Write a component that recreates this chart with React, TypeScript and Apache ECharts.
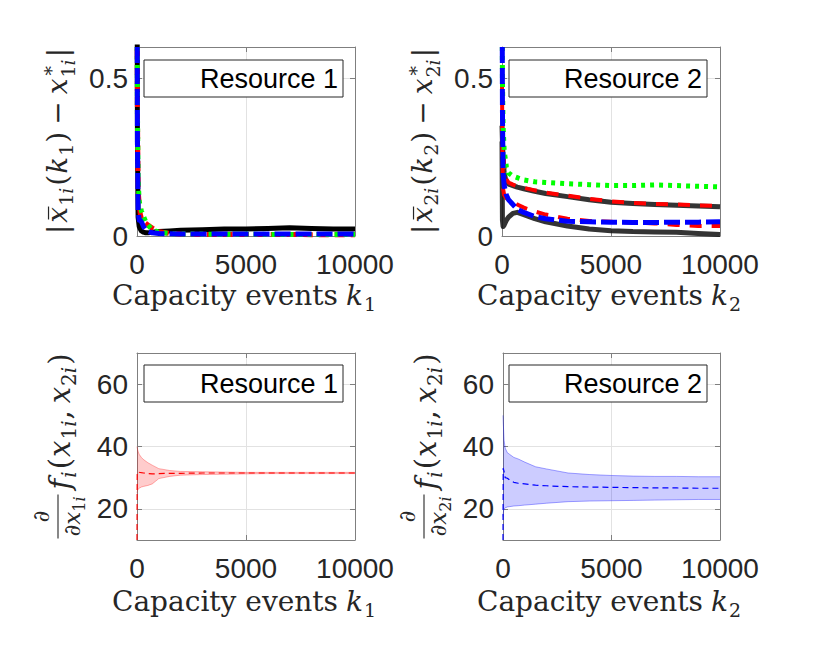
import React, { useEffect, useRef } from "react";
import * as echarts from "echarts";

// ---------------- data ----------------
const xTickValues = [0, 5000, 10000];
const topYTicks = [0, 0.5];
const bottomYTicks = [20, 40, 60];
const legendTexts = ["Resource 1", "Resource 2", "Resource 1", "Resource 2"];

// Resource 1, top: |x̄1i(k1) - x*1i|
const kR1 = [0, 20, 50, 100, 150, 200, 300, 400, 500, 700, 1000, 1500, 2000, 3000, 4000, 5000, 6000, 7000, 8000, 9000, 10000];
const r1Black = [1.0, 0.3, 0.06, 0.03, 0.022, 0.016, 0.012, 0.01, 0.01, 0.012, 0.014, 0.016, 0.018, 0.02, 0.022, 0.022, 0.024, 0.026, 0.024, 0.022, 0.022];
const r1Red = [1.0, 0.4, 0.15, 0.1, 0.07, 0.055, 0.045, 0.04, 0.035, 0.025, 0.014, 0.008, 0.006, 0.005, 0.005, 0.005, 0.005, 0.005, 0.004, 0.004, 0.004];
const r1Green = [1.0, 0.4, 0.18, 0.11, 0.095, 0.08, 0.062, 0.045, 0.035, 0.02, 0.012, 0.008, 0.006, 0.006, 0.005, 0.006, 0.005, 0.005, 0.005, 0.005, 0.005];
const r1Blue = [1.0, 0.3, 0.08, 0.05, 0.05, 0.045, 0.03, 0.02, 0.015, 0.01, 0.008, 0.007, 0.006, 0.006, 0.006, 0.006, 0.006, 0.006, 0.006, 0.006, 0.006];

// Resource 2, top: |x̄2i(k2) - x*2i|
const kR2 = [0, 20, 50, 100, 200, 300, 500, 700, 1000, 1500, 2000, 3000, 4000, 5000, 6000, 7000, 8000, 9000, 10000];
const r2Green = [1.0, 0.5, 0.35, 0.27, 0.22, 0.2, 0.19, 0.185, 0.178, 0.172, 0.17, 0.166, 0.163, 0.16, 0.16, 0.162, 0.16, 0.158, 0.156];
const r2BlackUpper = [0.35, 0.3, 0.25, 0.2, 0.17, 0.165, 0.16, 0.155, 0.15, 0.142, 0.135, 0.125, 0.115, 0.107, 0.103, 0.1, 0.098, 0.095, 0.093];
const r2RedUpper = [0.6, 0.35, 0.28, 0.22, 0.18, 0.17, 0.163, 0.158, 0.153, 0.145, 0.138, 0.128, 0.118, 0.11, 0.105, 0.102, 0.1, 0.097, 0.095];
const r2Blue = [1.0, 0.4, 0.2, 0.16, 0.13, 0.115, 0.1, 0.085, 0.075, 0.062, 0.055, 0.047, 0.045, 0.044, 0.043, 0.043, 0.044, 0.044, 0.045];
const r2RedLower = [0.5, 0.25, 0.15, 0.13, 0.12, 0.115, 0.11, 0.1, 0.09, 0.078, 0.068, 0.055, 0.048, 0.045, 0.043, 0.04, 0.035, 0.032, 0.032];
const r2BlackLower = [0.3, 0.05, 0.03, 0.035, 0.05, 0.06, 0.072, 0.075, 0.068, 0.055, 0.045, 0.032, 0.022, 0.017, 0.014, 0.013, 0.012, 0.008, 0.005];

// Bottom: gradient mean and band
const kG = [0, 10, 30, 50, 100, 200, 300, 500, 700, 1000, 1500, 2000, 3000, 4000, 5000, 6000, 7000, 8000, 9000, 10000];
const g1Mean = [10, 31.5, 32, 32, 31.8, 31.6, 31.5, 31.3, 31.2, 31.3, 31.4, 31.4, 31.5, 31.5, 31.5, 31.5, 31.5, 31.5, 31.5, 31.5];
const g1Upper = [40, 39.5, 39, 38.5, 37.5, 36.5, 35.8, 34.8, 34.0, 32.9, 32.3, 32.0, 31.9, 31.8, 31.7, 31.7, 31.7, 31.7, 31.7, 31.7];
const g1Lower = [25, 25.5, 26, 26.3, 26.6, 27.0, 27.2, 27.5, 28.0, 29.7, 30.4, 30.8, 31.0, 31.1, 31.2, 31.3, 31.3, 31.3, 31.3, 31.3];
const g2Mean = [10, 33, 33, 32, 30, 29.8, 29.3, 28.5, 28.2, 28, 27.6, 27.4, 27.1, 27, 26.9, 26.8, 26.7, 26.7, 26.6, 26.6];
const g2Upper = [50, 48, 45, 42, 39.5, 38, 37.5, 36.5, 36, 35, 33.5, 32.8, 31.5, 31.0, 30.7, 30.5, 30.4, 30.4, 30.3, 30.3];
const g2Lower = [17.5, 18.5, 19.5, 20, 20.3, 20.6, 20.7, 20.9, 21, 21.2, 21.5, 21.8, 22.3, 22.5, 22.6, 22.7, 22.8, 22.9, 23, 23];

// ---------------- style ----------------
const AX = "#7f7f7f";
const TXT = "#262626";
const GRIDC = "#e2e2e2";
const SANS = "Liberation Sans";
const SERIF = "DejaVu Serif";
const FS = 28; // main math font size
const SS = 19; // subscript size

const panels = [
  { left: 137, top: 47, width: 218, height: 189, yMin: 0, yMax: 0.6, yTicks: topYTicks },
  { left: 502, top: 47, width: 218, height: 189, yMin: 0, yMax: 0.6, yTicks: topYTicks },
  { left: 137, top: 353, width: 218, height: 187, yMin: 10, yMax: 70, yTicks: bottomYTicks },
  { left: 503, top: 353, width: 217, height: 187, yMin: 10, yMax: 70, yTicks: bottomYTicks },
];

type Piece = {
  t?: string;
  s?: number;
  it?: boolean;
  dy?: number;
  gap?: number;
  noAdv?: boolean;
  over?: boolean;
  frac?: { num: Piece[]; den: Piece[]; numDy: number; denDy: number; barDy: number };
};

function makeMeasure() {
  const ctx = document.createElement("canvas").getContext("2d") as CanvasRenderingContext2D;
  return (p: Piece) => {
    ctx.font = `${p.it ? "italic " : ""}${p.s}px "${SERIF}"`;
    return ctx.measureText(p.t || "").width;
  };
}

function buildMath(pieces: Piece[], color: string) {
  const measure = makeMeasure();
  const els: any[] = [];
  const fontOf = (p: Piece) => `${p.it ? "italic " : ""}${p.s}px "${SERIF}"`;
  const placeOne = (p: Piece, cur: number, baseDy: number) => {
    const w = measure(p);
    const x = cur + (p.gap || 0);
    const base = baseDy + (p.dy || 0);
    els.push({
      type: "text",
      x,
      y: base - 0.346 * (p.s as number),
      style: { text: p.t, font: fontOf(p), fill: color, align: "left", verticalAlign: "middle" },
    });
    if (p.over) {
      els.push({
        type: "line",
        shape: { x1: x + 0.2 * w, y1: base - 0.66 * (p.s as number), x2: x + 1.02 * w, y2: base - 0.66 * (p.s as number) },
        style: { stroke: color, lineWidth: 1.2 },
      });
    }
    return p.noAdv ? cur : x + w;
  };
  const widthOf = (list: Piece[]) => {
    let c = 0;
    for (const p of list) {
      const w = measure(p);
      if (!p.noAdv) c += (p.gap || 0) + w;
    }
    return c;
  };
  let cur = 0;
  for (const p of pieces) {
    if (p.frac) {
      const f = p.frac;
      const wn = widthOf(f.num);
      const wd = widthOf(f.den);
      const W = Math.max(wn, wd) + 4;
      const x0 = cur + (p.gap || 0);
      let c = x0 + (W - wn) / 2;
      for (const q of f.num) c = placeOne(q, c, f.numDy);
      c = x0 + (W - wd) / 2;
      for (const q of f.den) c = placeOne(q, c, f.denDy);
      els.push({
        type: "line",
        shape: { x1: x0, y1: f.barDy, x2: x0 + W, y2: f.barDy },
        style: { stroke: color, lineWidth: 1.1 },
      });
      cur = x0 + W;
    } else {
      cur = placeOne(p, cur, 0);
    }
  }
  return { els, width: cur };
}

function mathGroup(pieces: Piece[], cx: number, cy: number, rotated: boolean) {
  const { els, width } = buildMath(pieces, TXT);
  return {
    type: "group",
    x: cx,
    y: cy,
    rotation: rotated ? Math.PI / 2 : 0,
    z: 100,
    children: [{ type: "group", x: -width / 2, y: 0, children: els }],
  };
}

function topYLabel(n: string): Piece[] {
  return [
    { t: "|", s: FS },
    { t: "x", s: FS, it: true, over: true, gap: 2 },
    { t: n, s: SS, dy: 6, gap: 1 },
    { t: "i", s: SS, it: true, dy: 6 },
    { t: "(", s: FS, gap: 2 },
    { t: "k", s: FS, it: true, gap: 1 },
    { t: n, s: SS, dy: 6, gap: 1 },
    { t: ")", s: FS, gap: 1 },
    { t: "\u2212", s: FS, gap: 7 },
    { t: "x", s: FS, it: true, gap: 7 },
    { t: "*", s: SS, dy: -9, noAdv: true, gap: 3 },
    { t: n, s: SS, dy: 8, gap: 1 },
    { t: "i", s: SS, it: true, dy: 8 },
    { t: "|", s: FS, gap: 2 },
  ];
}

function bottomYLabel(n: string): Piece[] {
  const B = 29;
  const S = 20;
  return [
    {
      frac: {
        num: [{ t: "\u2202", s: 23 }],
        den: [
          { t: "\u2202", s: 23 },
          { t: "x", s: 23, it: true },
          { t: n, s: 16, dy: 5 },
          { t: "i", s: 16, it: true, dy: 5 },
        ],
        numDy: -21,
        denDy: 10,
        barDy: -12,
      },
    },
    { t: "f", s: B, it: true, gap: 5 },
    { t: "i", s: S, it: true, dy: 6, gap: 1 },
    { t: "(", s: B, gap: 2 },
    { t: "x", s: B, it: true, gap: 1 },
    { t: "1", s: S, dy: 6, gap: 1 },
    { t: "i", s: S, it: true, dy: 6 },
    { t: ",", s: B, gap: 1 },
    { t: "x", s: B, it: true, gap: 7 },
    { t: "2", s: S, dy: 6, gap: 1 },
    { t: "i", s: S, it: true, dy: 6 },
    { t: ")", s: B, gap: 2 },
  ];
}

function xTitle(n: string): Piece[] {
  return [
    { t: "Capacity events", s: FS },
    { t: "k", s: FS, it: true, gap: 8 },
    { t: n, s: SS, dy: 6, gap: 1 },
  ];
}

function pairs(ks: number[], vs: number[]) {
  return ks.map((k, i) => [k, vs[i]]);
}

function lineSeries(gi: number, ks: number[], vs: number[], color: string, width: number, type: any, z: number, opacity = 1) {
  return {
    type: "line",
    xAxisIndex: 2 * gi,
    yAxisIndex: 2 * gi,
    data: pairs(ks, vs),
    showSymbol: false,
    symbol: "none",
    clip: true,
    silent: true,
    z,
    lineStyle: { color, width, type, opacity, cap: "butt", join: "round" },
  };
}

function bandSeries(gi: number, ks: number[], lower: number[], upper: number[], fill: string, edge: string) {
  return {
    type: "custom",
    xAxisIndex: 2 * gi,
    yAxisIndex: 2 * gi,
    data: ks.map((k, i) => [k, lower[i], upper[i]]),
    encode: { x: 0, y: [1, 2] },
    silent: true,
    z: 2,
    renderItem: (params: any, api: any) => {
      if (params.dataIndex !== 0) return null;
      const up = ks.map((k, i) => api.coord([k, upper[i]]));
      const lo = ks.map((k, i) => api.coord([k, lower[i]]));
      return {
        type: "group",
        children: [
          { type: "polygon", shape: { points: up.concat(lo.slice().reverse()) }, style: { fill, stroke: "none" } },
          { type: "polyline", shape: { points: up }, style: { stroke: edge, fill: "none", lineWidth: 1 } },
          { type: "polyline", shape: { points: lo }, style: { stroke: edge, fill: "none", lineWidth: 1 } },
        ],
      };
    },
  };
}

function buildOption() {
  const grid = panels.map((p) => ({ left: p.left, top: p.top, width: p.width, height: p.height, containLabel: false }));

  const xAxis: any[] = [];
  const yAxis: any[] = [];
  panels.forEach((p, i) => {
    const common = {
      type: "value",
      gridIndex: i,
      min: 0,
      max: 10000,
      interval: 5000,
      axisLine: { show: true, onZero: false, lineStyle: { color: AX, width: 1 } },
      axisTick: { show: true, inside: true, length: 5, lineStyle: { color: AX, width: 1 } },
    };
    xAxis.push({
      ...common,
      position: "bottom",
      axisLabel: {
        show: true,
        margin: 14,
        color: TXT,
        fontSize: 28,
        fontFamily: SANS,
        showMinLabel: true,
        showMaxLabel: true,
        formatter: (v: number) => (xTickValues.indexOf(v) >= 0 ? String(v) : ""),
      },
      splitLine: { show: true, lineStyle: { color: GRIDC, width: 1 } },
    });
    xAxis.push({ ...common, position: "top", axisLabel: { show: false }, splitLine: { show: false } });

    const yCommon = {
      type: "value",
      gridIndex: i,
      min: p.yMin,
      max: p.yMax,
      axisLine: { show: true, onZero: false, lineStyle: { color: AX, width: 1 } },
      axisTick: { show: true, inside: true, length: 5, customValues: p.yTicks, lineStyle: { color: AX, width: 1 } },
    };
    yAxis.push({
      ...yCommon,
      position: "left",
      axisLabel: {
        show: true,
        margin: 9,
        color: TXT,
        fontSize: 28,
        fontFamily: SANS,
        customValues: p.yTicks,
        formatter: (v: number) => String(v),
      },
      splitLine: { show: true, lineStyle: { color: GRIDC, width: 1 } },
    });
    yAxis.push({ ...yCommon, position: "right", axisLabel: { show: false }, splitLine: { show: false } });
  });

  const series: any[] = [
    // Resource 1 (top-left)
    lineSeries(0, kR1, r1Black, "#000000", 5, "solid", 3),
    lineSeries(0, kR1, r1Red, "#ff0000", 5, [10, 6], 4),
    lineSeries(0, kR1, r1Green, "#00ff00", 5, [4, 5], 5),
    lineSeries(0, kR1, r1Blue, "#0000ff", 5, [16, 5], 6),
    // Resource 2 (top-right)
    lineSeries(1, kR2, r2BlackUpper, "#111111", 5, "solid", 3, 0.85),
    lineSeries(1, kR2, r2BlackLower, "#111111", 5, "solid", 3, 0.85),
    lineSeries(1, kR2, r2RedUpper, "#ff0000", 4, [12, 10], 4),
    lineSeries(1, kR2, r2RedLower, "#ff0000", 4, [12, 10], 4),
    lineSeries(1, kR2, r2Green, "#00ff00", 5, [4, 5], 5),
    lineSeries(1, kR2, r2Blue, "#0000ff", 5, [16, 5], 6),
    // Bottom-left
    bandSeries(2, kG, g1Lower, g1Upper, "rgba(255,0,0,0.2)", "rgba(255,0,0,0.3)"),
    lineSeries(2, kG, g1Mean, "#ff0000", 1.2, [6, 4], 4),
    // Bottom-right
    bandSeries(3, kG, g2Lower, g2Upper, "rgba(0,0,255,0.2)", "rgba(0,0,255,0.35)"),
    lineSeries(3, kG, g2Mean, "#0000ff", 1.2, [6, 4], 4),
  ];

  const legendBoxes = [
    { x: 144, y: 60, w: 199, h: 37 },
    { x: 509, y: 60, w: 198, h: 37 },
    { x: 144, y: 365, w: 199, h: 37 },
    { x: 509, y: 365, w: 198, h: 37 },
  ];

  const graphic: any[] = [];
  legendBoxes.forEach((b, i) => {
    graphic.push({
      type: "rect",
      z: 100,
      shape: { x: b.x, y: b.y, width: b.w, height: b.h },
      style: { fill: "#ffffff", stroke: TXT, lineWidth: 1 },
    });
    graphic.push({
      type: "text",
      z: 101,
      x: b.x + b.w - 5,
      y: b.y + b.h / 2,
      style: { text: legendTexts[i], font: `27px "${SANS}"`, fill: "#000000", align: "right", verticalAlign: "middle" },
    });
  });

  // x-axis titles
  graphic.push(mathGroup(xTitle("1"), 244, 305, false));
  graphic.push(mathGroup(xTitle("2"), 609, 305, false));
  graphic.push(mathGroup(xTitle("1"), 244, 611, false));
  graphic.push(mathGroup(xTitle("2"), 609, 611, false));
  // y-axis titles
  graphic.push(mathGroup(topYLabel("1"), 67, 141, true));
  graphic.push(mathGroup(topYLabel("2"), 432, 141, true));
  graphic.push(mathGroup(bottomYLabel("1"), 70, 446, true));
  graphic.push(mathGroup(bottomYLabel("2"), 436, 446, true));

  return {
    animation: false,
    backgroundColor: "#ffffff",
    grid,
    xAxis,
    yAxis,
    series,
    graphic,
  };
}

export default function App() {
  const ref = useRef<HTMLDivElement>(null);
  useEffect(() => {
    const chart = echarts.init(ref.current as HTMLDivElement, null, { renderer: "svg" });
    chart.setOption(buildOption() as any);
    return () => chart.dispose();
  }, []);
  return (
    <div
      ref={ref}
      style={{ position: "absolute", left: 0, top: 0, width: 830, height: 645, background: "#ffffff" }}
    />
  );
}
